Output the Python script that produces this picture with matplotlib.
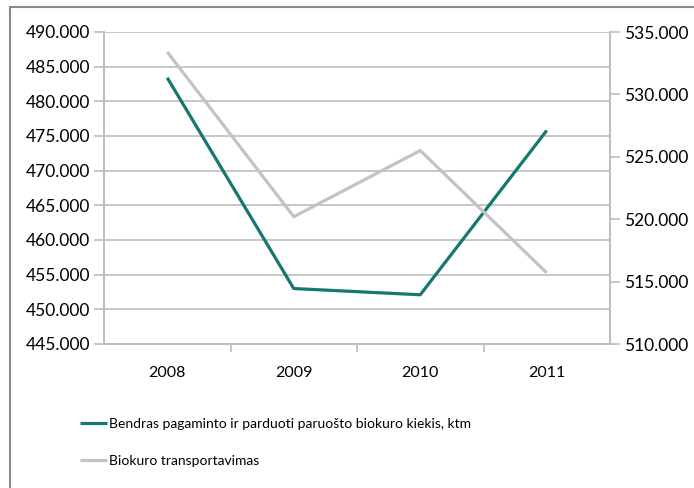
import matplotlib.pyplot as plt
from matplotlib.patches import Rectangle

years = ['2008', '2009', '2010', '2011']
bendras = [483.4, 453.0, 452.1, 475.8]
transport = [533.4, 520.2, 525.5, 515.7]
left_ticks = [445, 450, 455, 460, 465, 470, 475, 480, 485, 490]
right_ticks = [510, 515, 520, 525, 530, 535]
label_a = 'Bendras pagaminto ir parduoti paruošto biokuro kiekis, ktm'
label_b = 'Biokuro transportavimas'

teal = '#16776f'
lgrey = '#c3c3c3'
axcol = '#bdbdbd'

plt.rcParams['font.family'] = ['Lato', 'DejaVu Sans']

fig = plt.figure(figsize=(6.94, 4.88), dpi=100)
ax = fig.add_axes([104/694, 1-344/488, 506/694, 312/488])
ax2 = ax.twinx()

x = list(range(len(years)))
l1, = ax.plot(x, bendras, color=teal, lw=2.3, solid_capstyle='butt', zorder=3)
l2, = ax2.plot(x, transport, color=lgrey, lw=2.3, solid_capstyle='butt', zorder=3)

ax.set_xlim(-0.5, 3.5)
ax.set_ylim(445, 490)
ax2.set_ylim(510, 535)
ax.set_yticks(left_ticks)
ax.set_yticklabels(['%d.000' % v for v in left_ticks])
ax2.set_yticks(right_ticks)
ax2.set_yticklabels(['%d.000' % v for v in right_ticks])

ax.set_xticks(x)
ax.set_xticklabels(years)
ax.set_xticks([0.5, 1.5, 2.5], minor=True)
ax.tick_params(axis='x', which='major', length=0, pad=16, labelsize=11.5)
ax.tick_params(axis='x', which='minor', length=6, color=axcol, width=1.2)
ax.tick_params(axis='y', length=7, color=axcol, width=1.2, labelsize=12.5, pad=3)
ax2.tick_params(axis='y', length=7, color=axcol, width=1.2, labelsize=12.5, pad=3)

ax.yaxis.grid(True, color=axcol, lw=1.2)
ax.set_axisbelow(True)
for a in (ax, ax2):
    a.spines['top'].set_visible(False)
    for s in ('left', 'right', 'bottom'):
        a.spines[s].set_color(axcol)
        a.spines[s].set_linewidth(1.2)

fig.legend([l1, l2], [label_a, label_b], loc='upper left',
           bbox_to_anchor=(67/694, 1-405/488), frameon=False,
           handlelength=2.0, handletextpad=0.12, labelspacing=1.85,
           fontsize=10)

fig.patches.append(Rectangle((10/694, -0.1), 1.2, 1-7/488+0.1,
                             transform=fig.transFigure, fill=False,
                             edgecolor='#8a8a8a', lw=1.5))

fig.savefig('out.png', dpi=100)
